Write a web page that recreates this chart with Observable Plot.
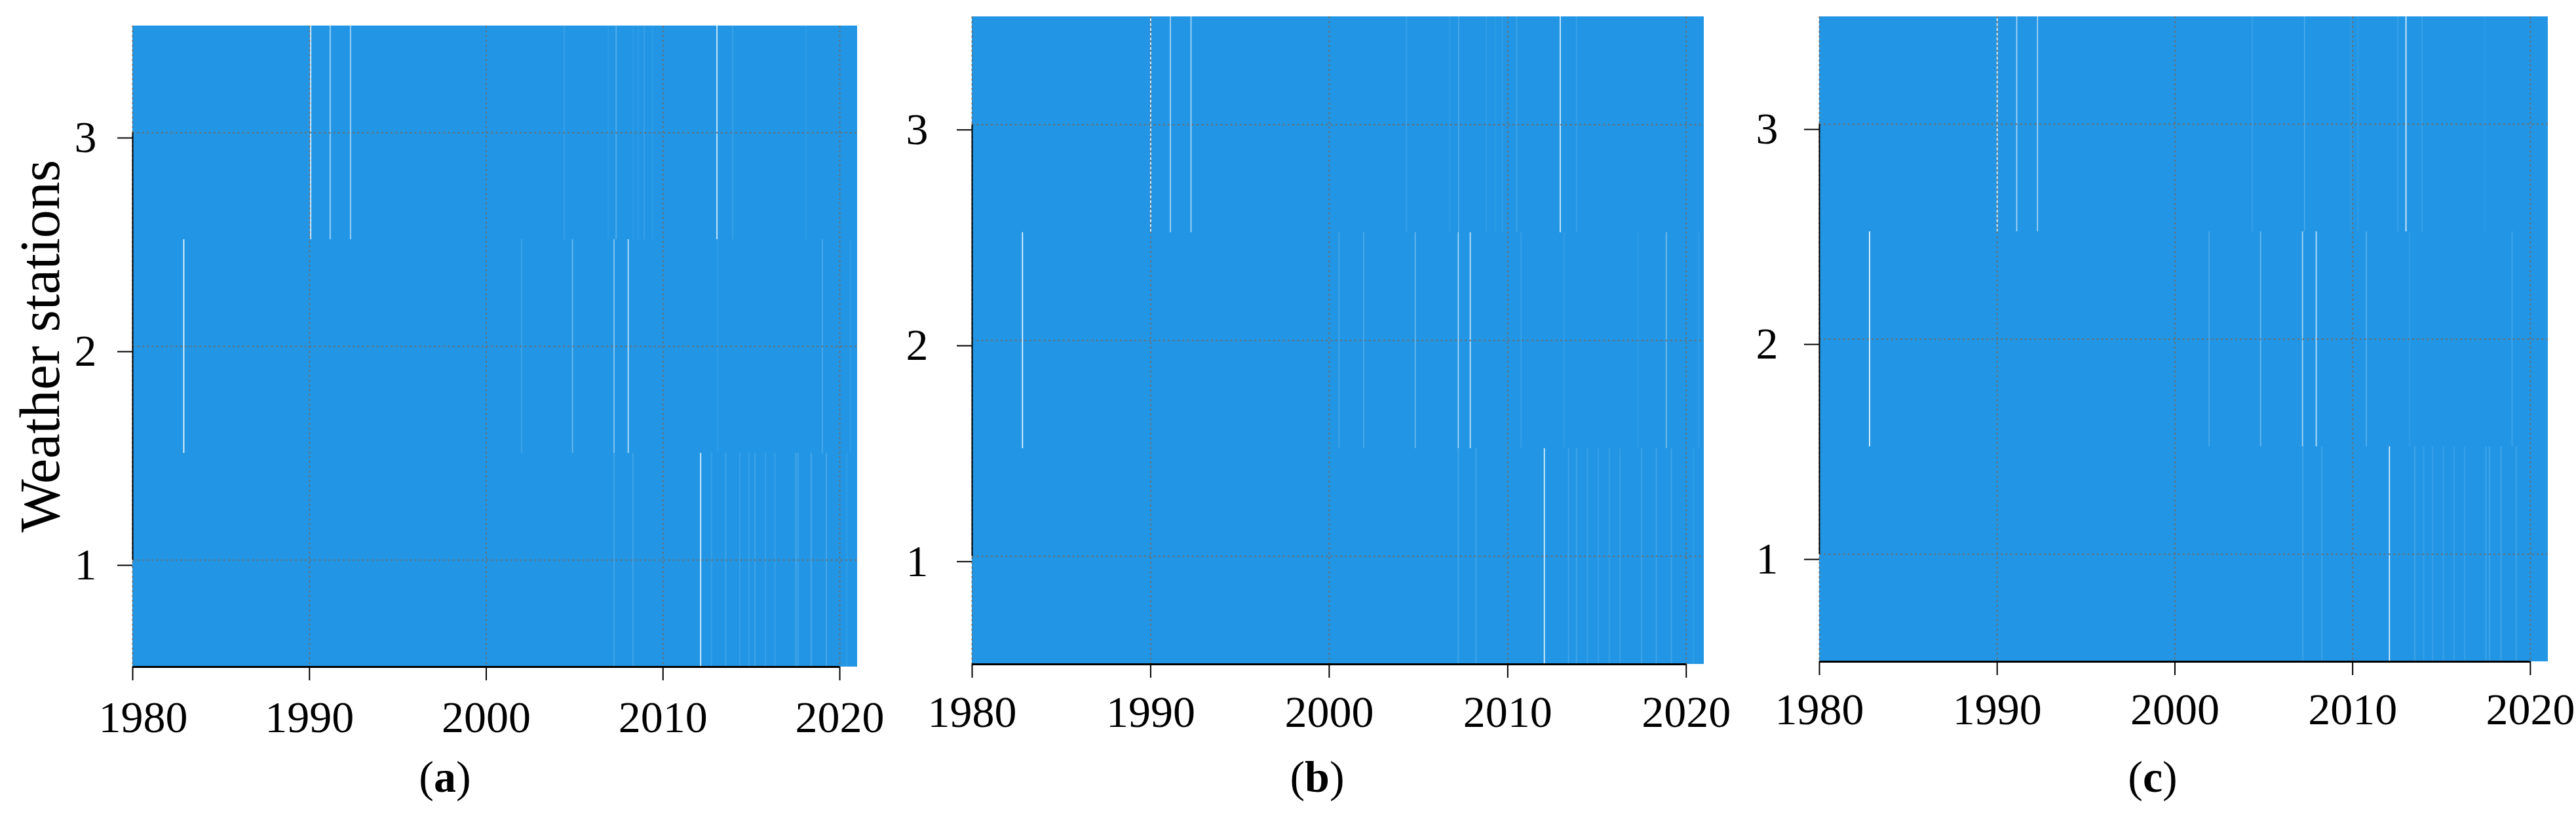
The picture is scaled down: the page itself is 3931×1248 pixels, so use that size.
<!DOCTYPE html>
<html>
<head>
<meta charset="utf-8">
<script src="https://cdn.jsdelivr.net/npm/d3@7"></script>
<script src="https://cdn.jsdelivr.net/npm/@observablehq/plot@0.6"></script>
<style>
  html, body { margin: 0; padding: 0; background: #ffffff; }
  #wrap { position: relative; width: 3931px; height: 1248px; overflow: hidden; font-family: "Liberation Serif", "DejaVu Serif", serif; color: #000; }
  .panel { position: absolute; top: 0; }
  .cap { position: absolute; font-size: 68px; line-height: 1; white-space: nowrap; transform: translateX(-50%); }
  .ylab { position: absolute; font-size: 86px; line-height: 1; white-space: nowrap; transform: translate(-50%, -50%) rotate(-90deg); }
</style>
</head>
<body>
<div id="wrap"></div>
<script>
// ---------- data ----------
const startYear = 1980;
const endYear = 2021;
const stations = [1, 2, 3];
const xTicks = [1980, 1990, 2000, 2010, 2020];
const yTicks = [1, 2, 3];
const panelLabels = ["a", "b", "c"];
const yTitle = "Weather stations";

// missing-data gaps: [station, decimal year, share missing]
const gapsA = [
  [3, 1990.07, 0.95], [3, 1991.17, 0.7], [3, 1992.32, 0.7], [3, 2004.41, 0.2],
  [3, 2006.9, 0.12], [3, 2007.35, 0.35], [3, 2008.3, 0.12], [3, 2008.6, 0.12],
  [3, 2008.94, 0.2], [3, 2009.4, 0.12], [3, 2013.05, 0.9], [3, 2013.95, 0.2], [3, 2018.1, 0.12],
  [2, 1982.89, 0.95], [2, 2002.0, 0.25], [2, 2004.88, 0.45], [2, 2007.23, 0.6],
  [2, 2008.03, 0.8], [2, 2013.1, 0.15], [2, 2019.01, 0.3], [2, 2020.6, 0.15],
  [1, 2007.23, 0.25], [1, 2008.3, 0.25], [1, 2012.13, 0.9], [1, 2012.75, 0.2],
  [1, 2013.55, 0.25], [1, 2014.34, 0.2], [1, 2014.87, 0.2], [1, 2015.2, 0.25],
  [1, 2015.8, 0.2], [1, 2016.33, 0.2], [1, 2017.52, 0.3], [1, 2017.65, 0.25],
  [1, 2018.38, 0.3], [1, 2019.24, 0.3], [1, 2020.4, 0.15]
];
const gapsB = [
  [3, 1990.0, 0.95], [3, 1991.1, 0.7], [3, 1992.26, 0.7], [3, 2004.33, 0.2],
  [3, 2006.76, 0.15], [3, 2007.25, 0.3], [3, 2008.8, 0.15], [3, 2009.3, 0.12],
  [3, 2009.7, 0.15], [3, 2010.5, 0.25], [3, 2012.94, 0.9], [3, 2013.85, 0.2],
  [2, 1982.82, 0.95], [2, 2000.55, 0.25], [2, 2001.93, 0.3], [2, 2004.82, 0.45],
  [2, 2007.23, 0.7], [2, 2007.9, 0.8], [2, 2010.75, 0.2], [2, 2013.16, 0.15],
  [2, 2017.3, 0.15], [2, 2018.88, 0.5], [2, 2020.7, 0.15],
  [1, 2007.23, 0.25], [1, 2008.22, 0.25], [1, 2012.05, 0.9], [1, 2013.4, 0.25],
  [1, 2013.85, 0.25], [1, 2014.46, 0.2], [1, 2015.07, 0.2], [1, 2015.68, 0.2],
  [1, 2016.28, 0.2], [1, 2017.5, 0.25], [1, 2018.32, 0.25], [1, 2019.17, 0.25], [1, 2020.4, 0.15]
];
const gapsC = [
  [3, 1990.0, 0.95], [3, 1991.1, 0.7], [3, 1992.27, 0.7], [3, 2004.35, 0.2],
  [3, 2007.29, 0.3], [3, 2009.9, 0.15], [3, 2010.3, 0.15], [3, 2012.55, 0.2],
  [3, 2013.0, 0.9], [3, 2013.9, 0.2], [3, 2017.44, 0.12],
  [2, 1982.82, 0.95], [2, 2001.92, 0.3], [2, 2004.82, 0.45], [2, 2007.18, 0.7],
  [2, 2007.95, 0.8], [2, 2010.77, 0.35], [2, 2013.2, 0.15], [2, 2018.97, 0.25],
  [1, 2007.2, 0.25], [1, 2008.27, 0.25], [1, 2012.07, 0.9], [1, 2013.5, 0.25],
  [1, 2014.0, 0.2], [1, 2014.5, 0.2], [1, 2015.1, 0.2], [1, 2015.7, 0.2],
  [1, 2016.3, 0.2], [1, 2017.5, 0.25], [1, 2017.7, 0.25], [1, 2018.35, 0.25], [1, 2019.2, 0.25]
];

// ---------- layout ----------
const BLUE = "#2296e5";
const GRID = "#6e6e6e";
const FONT = "'Liberation Serif', 'DejaVu Serif', serif";

const panels = [
  { gaps: gapsA, left: 0,    width: 1340, mt: 39, mb: 1248 - 1017, ml: 202, mr: 1340 - 1308, xPad: 30, yPad: 32, firstDx: 16, capX: 679 },
  { gaps: gapsB, left: 1340, width: 1290, mt: 25, mb: 1248 - 1013, ml: 143, mr: 1290 - 1260, xPad: 26, yPad: 44, firstDx: 0, capX: 2010 },
  { gaps: gapsC, left: 2630, width: 1301, mt: 25, mb: 1248 - 1009, ml: 146, mr: 1301 - 1258, xPad: 26, yPad: 40, firstDx: 0, capX: 3285 }
];

const wrap = document.getElementById("wrap");

panels.forEach((p, i) => {
  const first = xTicks[0];
  const last = xTicks[xTicks.length - 1];
  const marks = [
    Plot.rect(stations, {
      x1: () => startYear, x2: () => endYear,
      y1: d => d - 0.5, y2: d => d + 0.5,
      fill: BLUE, shapeRendering: "crispEdges"
    }),
    Plot.ruleX(p.gaps, {
      x: d => d[1], y1: d => d[0] - 0.5, y2: d => d[0] + 0.5,
      stroke: "#ffffff", strokeOpacity: d => Math.pow(d[2], 1.35), strokeWidth: 1.7
    }),
    Plot.gridX({ ticks: xTicks, stroke: GRID, strokeOpacity: 1, strokeWidth: 2, strokeDasharray: "3,4.3" }),
    Plot.gridY({ ticks: yTicks, stroke: GRID, strokeOpacity: 1, strokeWidth: 2, strokeDasharray: "3,4.3" }),
    // bottom axis line (1980–2020) and left axis line (1–3), R style
    Plot.ruleY([{ y: 0.5, a: first, b: last }], { y: "y", x1: "a", x2: "b", stroke: "#000", strokeWidth: 3 }),
    Plot.ruleX([{ x: first, a: yTicks[0], b: yTicks[yTicks.length - 1] }], { x: "x", y1: "a", y2: "b", stroke: "#000", strokeWidth: 2 }),
    Plot.axisX({
      ticks: xTicks, anchor: "bottom", tickSize: 21, tickPadding: p.xPad, strokeWidth: 2,
      label: null, fontSize: 68,
      tickFormat: d => (p.firstDx && d === first) ? "" : String(d)
    }),
    Plot.axisY({
      ticks: yTicks, anchor: "left", tickSize: 23, tickPadding: p.yPad, strokeWidth: 2,
      label: null, fontSize: 68, dy: 8, tickFormat: d => String(d)
    })
  ];
  if (p.firstDx) {
    marks.push(Plot.text([first], {
      x: d => d, y: () => 0.5, text: d => String(d), lineAnchor: "top",
      dy: 21 + p.xPad, dx: p.firstDx, fontSize: 68, fill: "#000"
    }));
  }
  const chart = Plot.plot({
    width: p.width,
    height: 1248,
    marginTop: p.mt,
    marginBottom: p.mb,
    marginLeft: p.ml,
    marginRight: p.mr,
    x: { domain: [startYear, endYear], axis: null },
    y: { domain: [0.5, 3.5], axis: null },
    opacity: { type: "identity" },
    style: { fontFamily: FONT, fontSize: "68px", overflow: "visible", background: "transparent", color: "#000" },
    marks
  });
  chart.classList.add("panel");
  chart.style.left = p.left + "px";
  chart.style.position = "absolute";
  chart.style.top = "0px";
  wrap.appendChild(chart);

  const cap = document.createElement("div");
  cap.className = "cap";
  cap.style.left = p.capX + "px";
  cap.style.top = "1151px";
  cap.innerHTML = "(<b>" + panelLabels[i] + "</b>)";
  wrap.appendChild(cap);
});

const yl = document.createElement("div");
yl.className = "ylab";
yl.style.left = "61px";
yl.style.top = "528px";
yl.textContent = yTitle;
wrap.appendChild(yl);
</script>
</body>
</html>
